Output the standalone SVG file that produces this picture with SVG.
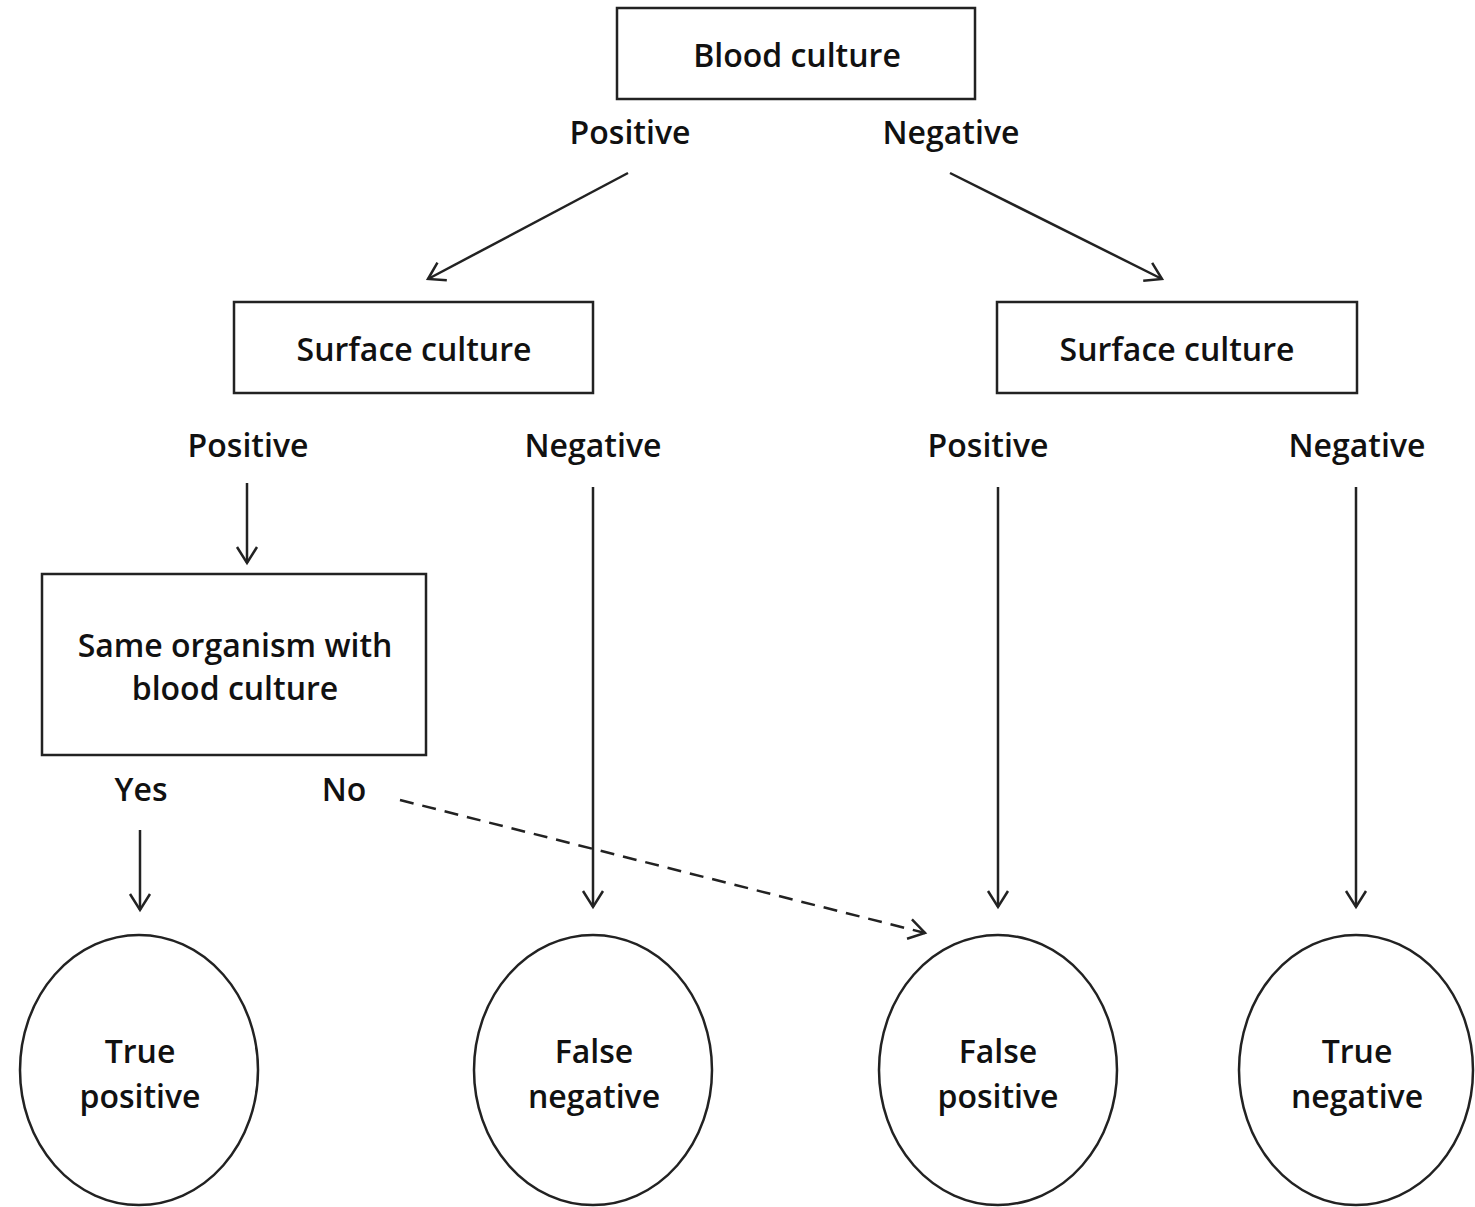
<svg xmlns="http://www.w3.org/2000/svg" width="1475" height="1207" viewBox="0 0 1475 1207">
<style>
.box{fill:#fff;stroke:#222;stroke-width:2.5}
.t{font-family:"Open Sans","Noto Sans",sans-serif;font-size:32px;fill:#111;text-anchor:middle;font-weight:600;letter-spacing:0}
.ln{stroke:#222;stroke-width:2.5;fill:none;marker-end:url(#ah)}
.dash{stroke-dasharray:14 9}
</style>
<defs>
<marker id="ah" viewBox="-18 -12 22 24" refX="0" refY="0" markerWidth="22" markerHeight="24" markerUnits="userSpaceOnUse" orient="auto">
<path d="M-16,-10 L0,0 L-16,10" fill="none" stroke="#222" stroke-width="2.5"/>
</marker>
</defs>
<rect width="1475" height="1207" fill="#fff"/>
<g id="blood"><rect class="box" x="617" y="8" width="358" height="91"/><text class="t" x="797" y="67">Blood culture</text></g>
<g id="surfL"><rect class="box" x="234" y="302" width="359" height="91"/><text class="t" x="414" y="361">Surface culture</text></g>
<g id="surfR"><rect class="box" x="997" y="302" width="360" height="91"/><text class="t" x="1177" y="361">Surface culture</text></g>
<g id="same"><rect class="box" x="42" y="574" width="384" height="181"/><text class="t" x="235" y="657">Same organism with</text><text class="t" x="235" y="700">blood culture</text></g>
<g id="tp"><ellipse class="box" cx="139" cy="1070" rx="119" ry="135"/><text class="t" x="140" y="1063">True</text><text class="t" x="140" y="1108">positive</text></g>
<g id="fn"><ellipse class="box" cx="593" cy="1070" rx="119" ry="135"/><text class="t" x="594" y="1063">False</text><text class="t" x="594" y="1108">negative</text></g>
<g id="fp"><ellipse class="box" cx="998" cy="1070" rx="119" ry="135"/><text class="t" x="998" y="1063">False</text><text class="t" x="998" y="1108">positive</text></g>
<g id="tn"><ellipse class="box" cx="1356" cy="1070" rx="117" ry="135"/><text class="t" x="1357" y="1063">True</text><text class="t" x="1357" y="1108">negative</text></g>
<g id="labels">
<text class="t" x="630" y="144">Positive</text>
<text class="t" x="951" y="144">Negative</text>
<text class="t" x="248" y="457">Positive</text>
<text class="t" x="593" y="457">Negative</text>
<text class="t" x="988" y="457">Positive</text>
<text class="t" x="1357" y="457">Negative</text>
<text class="t" x="141" y="801">Yes</text>
<text class="t" x="344" y="801">No</text>
</g>
<g id="connectors">
<line class="ln" x1="628" y1="173" x2="428" y2="279"/>
<line class="ln" x1="950" y1="173" x2="1162" y2="279"/>
<line class="ln" x1="247" y1="483" x2="247" y2="563"/>
<line class="ln" x1="593" y1="487" x2="593" y2="907"/>
<line class="ln" x1="998" y1="487" x2="998" y2="907"/>
<line class="ln" x1="1356" y1="487" x2="1356" y2="907"/>
<line class="ln" x1="140" y1="830" x2="140" y2="910"/>
<line class="ln dash" x1="400" y1="800" x2="925" y2="933"/>
</g>
</svg>
